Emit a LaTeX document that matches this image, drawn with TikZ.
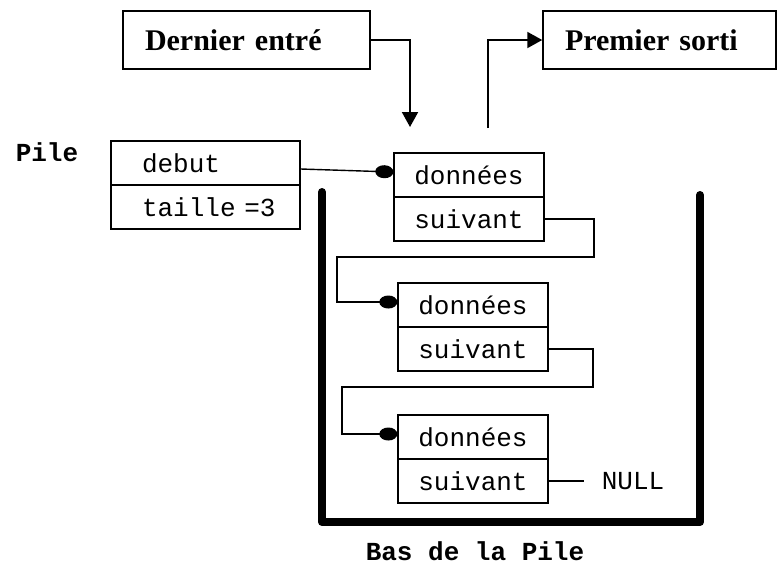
\documentclass[tikz,border=0pt]{standalone}
\usepackage{fontspec}
\setmainfont{Liberation Serif}
\newfontfamily\courier{Liberation Mono}
\usetikzlibrary{arrows.meta}

\tikzset{
  titre/.style={draw, line width=1.5pt, font=\bfseries\fontsize{30}{34}\selectfont,
    align=left, inner xsep=22pt, inner ysep=0pt, minimum height=58pt},
  champ/.style={draw, line width=1.4pt, font=\courier\fontsize{26}{30}\selectfont,
    minimum width=150pt, minimum height=44pt, inner sep=0pt},
  tete/.style={champ, text width=127pt, inner xsep=31pt, align=left},
  texte/.style={font=\courier\fontsize{26}{30}\selectfont},
  gras/.style={font=\courier\bfseries\fontsize{26}{30}\selectfont, anchor=base, inner sep=1pt},
  lien/.style={line width=1.4pt, -{Circle[length=18pt,width=13pt]}},
  trait/.style={line width=1.4pt},
  fleche/.style={line width=2pt, -{Triangle[length=15pt,width=16pt]}},
  paroi/.style={line width=8pt, line cap=round, line join=round}
}

\begin{document}
\begin{tikzpicture}[x=1pt, y=-1pt]
  \useasboundingbox (0,0) rectangle (779,566);

  \node[titre, text width=203pt] (dernier) at (246.5,40) {Dernier entré};
  \node[titre, text width=189pt] (premier) at (659.5,40) {Premier sorti};
  \coordinate (entree) at (410,127);
  \coordinate (sortie) at (488,128);
  \draw[fleche] (dernier.east) -| (entree);
  \draw[fleche] (sortie) |- (premier.west);

  \node[gras] (pile) at (47,161) {Pile};
  \node[tete] (debut) at (205.5,163) {debut};
  \node[tete] (taille) at (205.5,207) {taille~=3};

  \draw[paroi] (322,192) -- (322,522) -- (700,522) -- (700,195);

  \node[champ] (donnees1) at (469,175) {données};
  \node[champ] (suivant1) at (469,219) {suivant};
  \node[champ] (donnees2) at (473,305) {données};
  \node[champ] (suivant2) at (473,349) {suivant};
  \node[champ] (donnees3) at (473,437) {données};
  \node[champ] (suivant3) at (473,481) {suivant};
  \node[texte] (null) at (633,481) {NULL};

  \draw[lien] ([yshift=-6pt]debut.east) -- ([yshift=3pt]donnees1.west);
  \draw[lien] (suivant1.east) -| (594,257) -| (337,302) -- ([yshift=3pt]donnees2.west);
  \draw[lien] (suivant2.east) -| (593,387) -| (342,434) -- ([yshift=3pt]donnees3.west);
  \draw[trait] (suivant3.east) -- ([xshift=-14pt]null.west);

  \node[gras] (bas) at (475,560) {Bas de la Pile};
\end{tikzpicture}
\end{document}
